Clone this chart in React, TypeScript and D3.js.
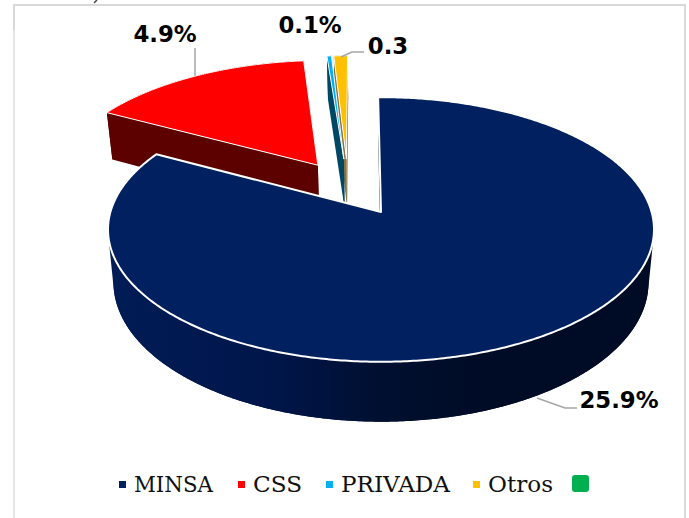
import * as d3 from "d3";

const categories = ["MINSA", "CSS", "PRIVADA", "Otros"];
const values = [25.9, 4.9, 0.1, 0.3];
const labels = ["25.9%", "4.9%", "0.1%", "0.3"];
const faceColors = ["#002060", "#ff0000", "#00b0f0", "#ffc000"];
const wallColors = ["url(#minsaWall)", "#5c0000", "#004766", "#8a7440"];

// how far each slice is pulled out of the pie, in pie radii
const explodeX = [0, -0.245, -0.145, -0.135];
const explodeY = [0, 0.378, 0.43, 0.43];

const legendX = [119, 238, 326, 473];
// the original legend font is wider than DejaVu Serif
const legendTextWidth = [79, 49, 109, 65];

const width = 689;
const height = 518;

// perspective projection of the pie plane
const cx = 381;
const cy = 212;
const kx = 270.6;
const ky = 130;
const persp = 0.132;
const depth = 52;
const bottomShrink = 0.98;

function project(px: number, py: number, level: number): [number, number] {
  const d = 1 + persp * py;
  const x = cx + ((kx * px) / d) * (level ? bottomShrink : 1);
  const y = cy - (ky * py) / d + (level * depth) / d;
  return [x, y];
}

const pie = d3
  .pie<number>()
  .sort(null)
  .startAngle(-0.012)
  .endAngle(2 * Math.PI - 0.012);
const arcs = pie(values);

const line = d3.line();

function rimAngles(a0: number, a1: number) {
  const step = 0.01;
  return [...d3.range(a0, a1, step), a1];
}

function rimPoint(i: number, a: number, level: number) {
  return project(Math.sin(a) + explodeX[i], Math.cos(a) + explodeY[i], level);
}

function facePath(i: number) {
  const { startAngle, endAngle } = arcs[i];
  const pts = rimAngles(startAngle, endAngle).map((a) => rimPoint(i, a, 0));
  pts.push(project(explodeX[i], explodeY[i], 0));
  return line(pts) + "Z";
}

function radialWallPath(i: number, a: number) {
  const apexTop = project(explodeX[i], explodeY[i], 0);
  const apexBottom = project(explodeX[i], explodeY[i], 1);
  return (
    line([rimPoint(i, a, 0), apexTop, apexBottom, rimPoint(i, a, 1)]) + "Z"
  );
}

function outerWallPath(i: number) {
  const { startAngle, endAngle } = arcs[i];
  const angles = rimAngles(startAngle, endAngle);
  const top = angles.map((a) => rimPoint(i, a, 0));
  const bottom = angles.map((a) => rimPoint(i, a, 1)).reverse();
  return line([...top, ...bottom]) + "Z";
}

// silhouette of the wall over one stretch of the rim, so the sides run
// straight down from the widest point of the top rim
function wallHullPath(i: number, a0: number, a1: number) {
  const angles = rimAngles(a0, a1);
  const pts = [
    ...angles.map((a) => rimPoint(i, a, 0)),
    ...angles.map((a) => rimPoint(i, a, 1)),
  ];
  return line(d3.polygonHull(pts) ?? []) + "Z";
}

// back slices first, the big one last
const drawOrder = [1, 3, 2, 0];

// label anchors and leader lines
const labelPos: [number, number][] = [
  [619, 408],
  [165, 42],
  [310, 33],
  [388, 54],
];
const leaders: [number, number][][] = [
  [
    [537, 398],
    [565, 408],
    [577, 408],
  ],
  [
    [195, 76],
    [195, 48],
  ],
  [],
  [
    [341, 57],
    [352, 52],
    [364, 52],
  ],
];

export default function App() {
  return (
    <svg
      width={width}
      height={height}
      style={{ position: "absolute", left: 0, top: 0, background: "#fff" }}
    >
      <defs>
        <linearGradient
          id="minsaWall"
          gradientUnits="userSpaceOnUse"
          x1={108}
          x2={654}
          y1={0}
          y2={0}
        >
          <stop offset="0" stopColor="#001c56" />
          <stop offset="0.3" stopColor="#00164a" />
          <stop offset="0.5" stopColor="#000f30" />
          <stop offset="0.68" stopColor="#000c26" />
          <stop offset="1" stopColor="#000c26" />
        </linearGradient>
      </defs>

      {/* frame, cut off at the bottom */}
      <path
        d="M14,30V5H685V518"
        fill="none"
        stroke="#d9d9d9"
        strokeWidth={2}
      />
      <path d="M14,30V518" fill="none" stroke="#e6e6e6" strokeWidth={2} />
      <path d="M97,0L94,3" fill="none" stroke="#444" strokeWidth={1.5} />

      {drawOrder.map((i) => (
        <g key={categories[i]}>
          <path d={outerWallPath(i)} fill={wallColors[i]} />
          {i === 0 && (
            <>
              <path
                d={wallHullPath(0, Math.PI * 0.42, Math.PI)}
                fill={wallColors[0]}
              />
              <path
                d={wallHullPath(0, Math.PI, Math.PI * 1.58)}
                fill={wallColors[0]}
              />
            </>
          )}
          <path d={radialWallPath(i, arcs[i].endAngle)} fill={wallColors[i]} />
          <path
            d={radialWallPath(i, arcs[i].startAngle)}
            fill={wallColors[i]}
          />
          <path
            d={facePath(i)}
            fill={faceColors[i]}
            stroke="#fff"
            strokeWidth={i === 0 ? 2 : 1}
            strokeLinejoin="round"
          />
        </g>
      ))}

      {leaders.map((pts, i) =>
        pts.length ? (
          <path
            key={i}
            d={line(pts) ?? ""}
            fill="none"
            stroke="#a6a6a6"
            strokeWidth={1.5}
          />
        ) : null,
      )}

      {labels.map((t, i) => (
        <text
          key={t}
          x={labelPos[i][0]}
          y={labelPos[i][1]}
          textAnchor="middle"
          fontFamily="'DejaVu Sans', sans-serif"
          fontWeight="bold"
          fontSize={22.8}
          fill="#000"
        >
          {t}
        </text>
      ))}

      {categories.map((c, i) => (
        <g key={c}>
          <rect
            x={legendX[i]}
            y={481}
            width={7}
            height={7}
            fill={faceColors[i]}
          />
          <text
            x={legendX[i] + 15}
            y={492}
            fontFamily="'DejaVu Serif', serif"
            fontSize={22}
            textLength={legendTextWidth[i]}
            lengthAdjust="spacingAndGlyphs"
            fill="#111"
          >
            {c}
          </text>
        </g>
      ))}
      <rect x={572} y={475} width={17} height={17} rx={3} fill="#00b050" />
    </svg>
  );
}
